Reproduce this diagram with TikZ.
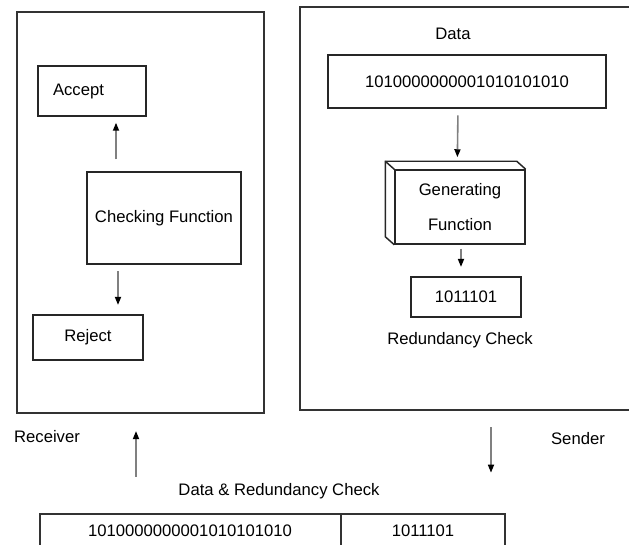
\documentclass[tikz,border=0pt]{standalone}
\usepackage{fontspec}
\setmainfont{Liberation Sans}
\usepackage{tikz}
\usetikzlibrary{arrows.meta,positioning}

\begin{document}
\begin{tikzpicture}[
  x=0.75pt, y=-0.75pt,
  font=\fontsize{12.5}{15}\selectfont,
  box/.style={draw=black!85, line width=1.1pt, inner sep=0pt, align=center},
  panel/.style={draw=black!80, line width=1.1pt},
  arrow/.style={-{Triangle[length=6pt, width=4.5pt, color=black]}, draw=black!50, line width=1.2pt},
  lbl/.style={inner sep=0pt}
]
\useasboundingbox (0,0) rectangle (629,545);
\node[box, panel, minimum width=185.25pt, minimum height=300.75pt] (recv) at (140.5,212.5) {};
\draw[panel] (629,7) -| (300,410) -- (629,410);
\coordinate (sendfoot) at (491,410);
\node[box, align=left, text width=58.5pt, inner xsep=11.25pt, minimum height=37.5pt] (accept) at (92,91) {Accept};
\node[box, minimum width=115.5pt, minimum height=69pt] (check) at (164,218) {Checking Function};
\node[box, minimum width=82.5pt, minimum height=33.75pt] (reject) at (88,337.5) {Reject};
\node[lbl] (datalbl) at (453,34) {Data};
\node[box, minimum width=208.5pt, minimum height=39.75pt] (data) at (467,81.5) {1010000000001010101010};
\node[box, minimum width=97.5pt, minimum height=55.5pt, font=\fontsize{12.5}{26}\selectfont] (gen) at (460,207) {Generating\\Function};
\draw[box] (gen.south west) -- ([shift={(-9,-8)}]gen.south west) -- ([shift={(-9,-8)}]gen.north west) -- ([shift={(-9,-8)}]gen.north east) -- (gen.north east);
\draw[box] ([shift={(-9,-8)}]gen.north west) -- (gen.north west);
\node[box, minimum width=82.5pt, minimum height=30pt] (crc) at (466,297) {1011101};
\node[lbl] (crclbl) at (460,340) {Redundancy Check};
\node[lbl] (receiver) at (47,437) {Receiver};
\node[lbl] (sender) at (578,439) {Sender};
\node[lbl] (framelbl) at (279,491) {Data \& Redundancy Check};
\draw[panel] (40,545) |- (505,514) -- (505,545);
\draw[panel] (341,514) -- (341,545);
\coordinate (recvfoot) at (136,514);
\coordinate (tabtop) at (491,514);
\node[lbl] (framedata) at (190,531) {1010000000001010101010};
\node[lbl] (framecrc) at (423,531) {1011101};
\draw[arrow, shorten <=9pt, shorten >=4.5pt] ([xshift=-36pt]check.north) -- ([xshift=18pt]accept.south);
\draw[arrow, shorten <=5pt, shorten >=7pt] ([xshift=-34.5pt]check.south) -- ([xshift=22.5pt]reject.north);
\draw[arrow, shorten <=5pt, shorten >=3pt] (data.south -| 458,0) -- ([xshift=-2pt,yshift=6pt]gen.north);
\draw[arrow, shorten <=3pt, shorten >=7pt] (gen.south -| crc.north) ++(-5,0) -- ([xshift=-3.75pt]crc.north);
\draw[arrow, shorten <=28pt, shorten >=13pt] (recvfoot) -- (recvfoot |- recv.south);
\draw[arrow, shorten <=13pt, shorten >=31pt] (sendfoot) -- (tabtop);
\end{tikzpicture}
\end{document}
